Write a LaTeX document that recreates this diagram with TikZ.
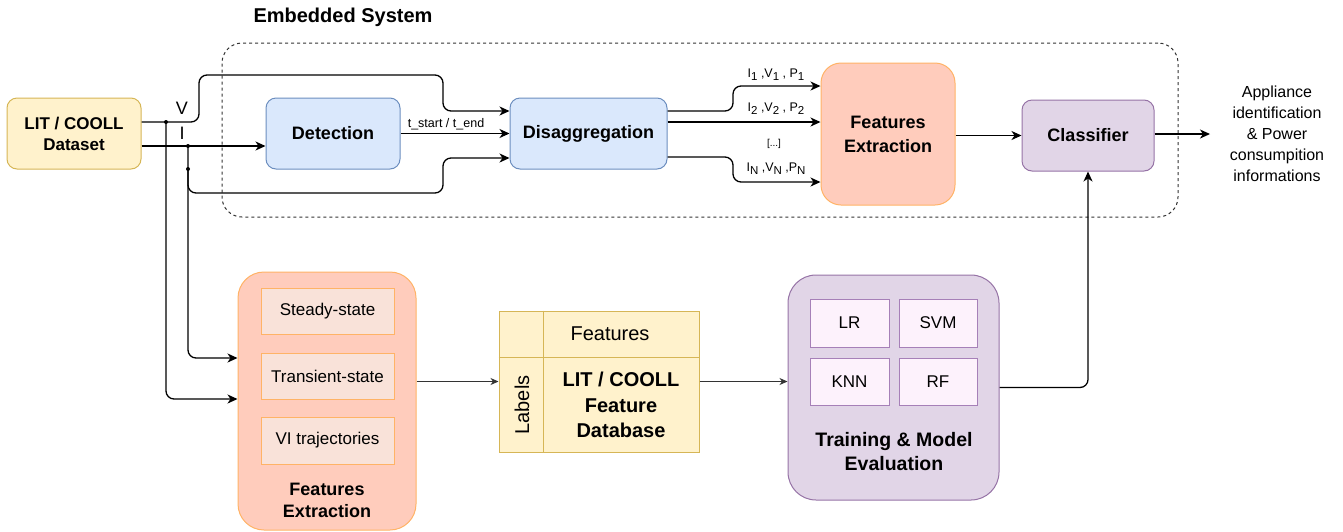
\documentclass[tikz,border=0pt]{standalone}
\usepackage{fontspec}
\setmainfont{Liberation Sans}
\usetikzlibrary{arrows.meta}
\definecolor{ylwF}{HTML}{FFF2CC}
\definecolor{ylwD}{HTML}{D6B656}
\definecolor{bluF}{HTML}{DAE8FC}
\definecolor{bluD}{HTML}{6C8EBF}
\definecolor{salF}{HTML}{FFCCBC}
\definecolor{salD}{HTML}{FFB366}
\definecolor{pchF}{HTML}{F9E2D9}
\definecolor{purF}{HTML}{E1D5E7}
\definecolor{purD}{HTML}{9673A6}
\definecolor{lpkF}{HTML}{FDF2FC}
\definecolor{lpkD}{HTML}{A680B8}
\newcommand\sbs[1]{\raisebox{-0.4ex}{\fontsize{11.5}{12}\selectfont #1}}
\begin{document}
\begin{tikzpicture}[x=1pt,y=-1pt,
  box/.style={draw, line width=1pt, rounded corners=10pt, inner sep=0pt, align=center},
  sbox/.style={draw, line width=1pt, inner sep=0pt, align=center, font=\fontsize{17}{20}\selectfont},
  tb/.style={font=\fontsize{18}{24}\selectfont\bfseries},
  conn/.style={draw=black, line width=1.3pt, -{Stealth[length=10pt,width=9pt,inset=3pt]}, rounded corners=8pt},
  tconn/.style={draw=black!80, line width=1pt, -{Stealth[length=8pt,width=7pt,inset=2.5pt]}, rounded corners=8pt},
  lab/.style={inner sep=0pt, font=\fontsize{12.5}{14}\selectfont},
  jdot/.style={fill=black}
]
\useasboundingbox (0,0) rectangle (1343,531);

% Embedded system container
\node[draw=black!80, dashed, dash pattern=on 3pt off 3pt, line width=1pt, rounded corners=20pt,
      minimum width=956pt, minimum height=174pt, inner sep=0pt] (emb) at (700,130) {};
\node[font=\fontsize{20}{24}\selectfont\bfseries, inner sep=0pt] (embt) at (343,17) {Embedded System};

% top row
\node[box, fill=ylwF, draw=ylwD, minimum width=134pt, minimum height=71pt,
      font=\fontsize{17}{21}\selectfont\bfseries] (ds) at (74,133.5) {LIT / COOLL\\Dataset};
\node[box, fill=bluF, draw=bluD, minimum width=134pt, minimum height=71pt, tb] (det) at (333,133.5) {Detection};
\node[box, fill=bluF, draw=bluD, minimum width=157pt, minimum height=71pt, tb] (dis) at (588.5,133.5) {Disaggregation};
\node[box, fill=salF, draw=salD, rounded corners=20pt, minimum width=134pt, minimum height=142pt, tb] (fe) at (888,134) {Features\\Extraction};
\node[box, fill=purF, draw=purD, minimum width=132pt, minimum height=71pt, tb] (cls) at (1088,135.5) {Classifier};
\node[align=center, inner sep=0pt, font=\fontsize{16}{21}\selectfont] (out) at (1277,134)
  {Appliance\\identification\\\& Power\\consumpition\\informations};
\coordinate (outp) at (1210,134);

% bottom row
\node[box, fill=salF, draw=salD, rounded corners=26pt, minimum width=178pt, minimum height=258pt] (fe2) at (327,401) {};
\node[sbox, fill=pchF, draw=salD, minimum width=133pt, minimum height=46pt] (ss) at (327.5,311) {Steady-state};
\node[sbox, fill=pchF, draw=salD, minimum width=133pt, minimum height=46pt] (ts) at (327.5,376) {Transient-state};
\node[sbox, fill=pchF, draw=salD, minimum width=133pt, minimum height=47pt] (vi) at (327.5,440.5) {VI trajectories};
\node[align=center, inner sep=0pt, font=\fontsize{18}{22}\selectfont\bfseries] (fe2t) at (327,500) {Features\\Extraction};

\node[draw=ylwD, fill=ylwF, line width=1pt, minimum width=200pt, minimum height=141pt, inner sep=0pt] (db) at (599,381.5) {};
\draw[draw=ylwD, line width=1pt] ([xshift=45pt]db.north west) -- ([xshift=45pt]db.south west);
\draw[draw=ylwD, line width=1pt] ([yshift=-47pt]db.north west) -- ([yshift=-47pt]db.north east);
\node[inner sep=0pt, font=\fontsize{20}{24}\selectfont] (dbf) at (610,334) {Features};
\node[inner sep=0pt, rotate=90, font=\fontsize{20}{24}\selectfont] (dbl) at (522,405) {Labels};
\node[align=center, inner sep=0pt, font=\fontsize{20}{25.5}\selectfont\bfseries] (dbt) at (621,405) {LIT / COOLL\\Feature\\Database};

\node[box, fill=purF, draw=purD, rounded corners=28pt, minimum width=211pt, minimum height=225pt] (tr) at (893.5,387.5) {};
\node[sbox, fill=lpkF, draw=lpkD, minimum width=79pt, minimum height=48pt] (lr) at (849.5,323) {LR};
\node[sbox, fill=lpkF, draw=lpkD, minimum width=78pt, minimum height=48pt] (svm) at (938,323) {SVM};
\node[sbox, fill=lpkF, draw=lpkD, minimum width=79pt, minimum height=47pt] (knn) at (849.5,381.5) {KNN};
\node[sbox, fill=lpkF, draw=lpkD, minimum width=78pt, minimum height=47pt] (rf) at (938,381.5) {RF};
\node[align=center, inner sep=0pt, font=\fontsize{19.5}{24}\selectfont\bfseries] (trt) at (894,452) {Training \& Model\\Evaluation};

% junctions
\coordinate (jV) at (166,122);
\coordinate (jI) at (188,146);
\coordinate (jI2) at (188,169);

% connectors
\draw[conn] ([yshift=11.5pt]ds.east) -- (199,122) -- (199,75) -- (443,75) -- (443,111) -- ([yshift=22.5pt]dis.west);
\draw[conn] ([yshift=-12.5pt]ds.east) -- ([yshift=-12.5pt]ds.east -| det.west);
\draw[conn] (jI2) -- (188,193) -- (443,193) -- (443,158) -- ([yshift=-24.5pt]dis.west);
\draw[conn] (jI) -- (188,358) -- ([yshift=43pt]fe2.west);
\draw[conn] (jV) -- (166,399) -- ([yshift=2pt]fe2.west);
\fill[jdot] (jV) circle (2pt);
\fill[jdot] (jI) circle (2pt);
\fill[jdot] (jI2) circle (2pt);
\node[inner sep=0pt, font=\fontsize{18}{20}\selectfont] (vl) at (182,108) {V};
\node[inner sep=0pt, font=\fontsize{18}{20}\selectfont] (il) at (182,133) {I};

\draw[conn] (det.east) -- (dis.west);
\node[lab] (tl) at (446,124) {t\_start / t\_end};

\draw[conn] ([yshift=22.5pt]dis.east) -- (733,111) -- (733,86) -- ([yshift=48pt]fe.west);
\draw[conn] ([yshift=11.5pt]dis.east) -- ([yshift=11.5pt]dis.east -| fe.west);
\draw[conn] ([yshift=-23.5pt]dis.east) -- (733,157) -- (733,182) -- ([yshift=-48pt]fe.west);
\node[lab] (l1) at (776,75) {I\sbs{1} ,V\sbs{1} , P\sbs{1}};
\node[lab] (l2) at (776,109) {I\sbs{2} ,V\sbs{2} , P\sbs{2}};
\node[inner sep=0pt, font=\fontsize{10}{12}\selectfont] (ldots) at (774,144) {[...]};
\node[lab] (l3) at (776,169) {I\sbs{N} ,V\sbs{N} ,P\sbs{N}};

\draw[conn] ([yshift=-1.5pt]fe.east) -- ([yshift=-1.5pt]fe.east -| cls.west);
\draw[conn] ([yshift=1.5pt]cls.east) -- (outp);

\draw[tconn] (fe2.east |- db.west) -- (db.west);
\draw[tconn] (db.east) -- (db.east -| tr.west);
\draw[conn] (tr.east) -| (cls.south);
\end{tikzpicture}
\end{document}
